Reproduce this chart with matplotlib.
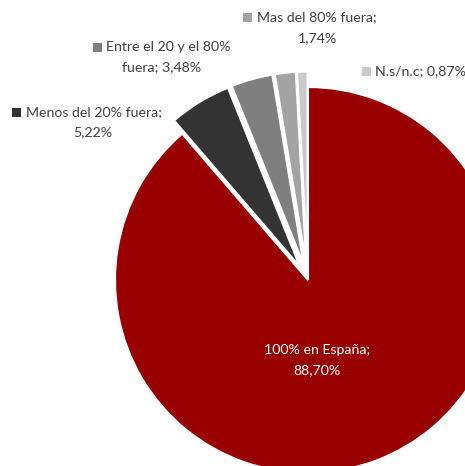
import matplotlib
matplotlib.use("Agg")
import matplotlib.pyplot as plt
from matplotlib.patches import Rectangle

categorias = ["100% en España", "Menos del 20% fuera", "Entre el 20 y el 80% fuera",
              "Mas del 80% fuera", "N.s/n.c"]
valores = [88.70, 5.22, 3.48, 1.74, 0.87]
etiquetas = ["88,70%", "5,22%", "3,48%", "1,74%", "0,87%"]
colores = ["#990000", "#333333", "#7f7f7f", "#a3a3a3", "#c9c9c9"]
separar = [0, 0.08, 0.08, 0.08, 0.08]

W, H = 465, 466
CX, CY, R = 308, 280, 193  # centro y radio en pixeles

plt.rcParams['font.family'] = ['Lato', 'DejaVu Sans']
fig = plt.figure(figsize=(W / 100, H / 100), dpi=100)
ax = fig.add_axes([0, 0, 1, 1])
ax.pie(valores, colors=colores, startangle=90, counterclock=False, explode=separar,
       wedgeprops=dict(edgecolor="white", linewidth=1.5))
ax.set_xlim(-CX / R, (W - CX) / R)
ax.set_ylim((CY - H) / R, CY / R)
ax.set_aspect('auto')
ax.axis('off')


def px(x, y):
    return x / W, 1 - y / H


def caja(x, y, color):
    fx, fy = px(x, y + 5)
    fig.patches.append(Rectangle((fx, fy), 9 / W, 9 / H, transform=fig.transFigure,
                                 facecolor=color, edgecolor="none"))


gris = "#404040"
fs = 10.2

# Menos del 20%
caja(12, 112, colores[1])
fig.text(*px(26, 112), "Menos del 20% fuera;", ha="left", va="center", fontsize=fs, color=gris)
fig.text(*px(93, 132), etiquetas[1], ha="center", va="center", fontsize=fs, color=gris)

# Entre el 20 y el 80%
caja(93, 47, colores[2])
fig.text(*px(106, 47), "Entre el 20 y el 80%", ha="left", va="center", fontsize=fs, color=gris)
fig.text(*px(162, 67), "fuera; " + etiquetas[2], ha="center", va="center", fontsize=fs, color=gris)

# Mas del 80%
caja(243, 17, colores[3])
fig.text(*px(257, 17), "Mas del 80% fuera;", ha="left", va="center", fontsize=fs, color=gris)
fig.text(*px(317, 38), etiquetas[3], ha="center", va="center", fontsize=fs, color=gris)

# N.s/n.c
caja(362, 71, colores[4])
fig.text(*px(375, 71), "N.s/n.c; " + etiquetas[4], ha="left", va="center", fontsize=fs, color=gris)

# 100% en España
fig.text(*px(317, 350), "100% en España;", ha="center", va="center", fontsize=fs, color="white")
fig.text(*px(317, 370), etiquetas[0], ha="center", va="center", fontsize=fs, color="white")

fig.savefig("out.png", dpi=100)
